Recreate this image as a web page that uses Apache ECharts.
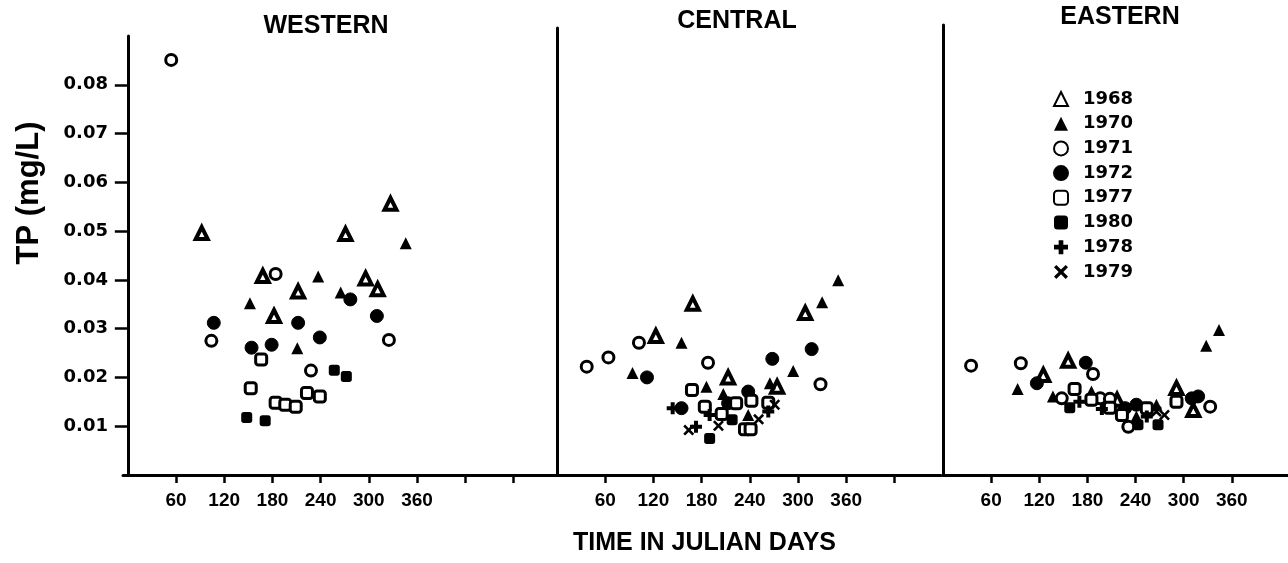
<!DOCTYPE html>
<html>
<head>
<meta charset="utf-8">
<script src="https://cdn.jsdelivr.net/npm/echarts@6/dist/echarts.min.js"></script>
<style>
  html, body { margin: 0; padding: 0; background: #fff; }
  #chart { width: 1288px; height: 563px; }
</style>
</head>
<body>
<div id="chart"></div>
<script>
// panels and legend years
const panels = ["WESTERN", "CENTRAL", "EASTERN"];
const years = ["1968", "1970", "1971", "1972", "1977", "1980", "1978", "1979"];
const dayTicks = [60, 120, 180, 240, 300, 360];
const tpTicks = [0.01, 0.02, 0.03, 0.04, 0.05, 0.06, 0.07, 0.08];

// [julian day, TP mg/L]
// western basin
const w1968 = [[92, 0.0496], [327, 0.0556], [271, 0.0494], [168, 0.0408], [296, 0.0403], [311, 0.0381], [212, 0.0376], [182, 0.0326]];
const w1970 = [[346, 0.0475], [237, 0.0407], [265, 0.0374], [152, 0.0352], [211, 0.0260]];
const w1971 = [[54, 0.0851], [184, 0.0412], [104, 0.0275], [325, 0.0277], [228, 0.0214]];
const w1972 = [[277, 0.0360], [107, 0.0312], [212, 0.0312], [310, 0.0326], [154, 0.0261], [179, 0.0267], [239, 0.0282]];
const w1977 = [[166, 0.0237], [153, 0.0178], [223, 0.0168], [239, 0.0161], [184, 0.0148], [196, 0.0144], [209, 0.0140]];
const w1980 = [[257, 0.0215], [272, 0.0202], [148, 0.0118], [171, 0.0111]];
const w1978 = [];
const w1979 = [];

// central basin
const c1968 = [[123, 0.0285], [169, 0.0351], [309, 0.0332], [213, 0.0200], [274, 0.0181]];
const c1970 = [[155, 0.0271], [94, 0.0209], [294, 0.0213], [330, 0.0354], [350, 0.0399], [186, 0.0181], [207, 0.0166], [265, 0.0188], [238, 0.0123]];
const c1971 = [[37, 0.0222], [64, 0.0241], [102, 0.0271], [188, 0.0230], [328, 0.0186]];
const c1972 = [[112, 0.0200], [268, 0.0238], [317, 0.0258], [238, 0.0171], [155, 0.0137], [213, 0.0147]];
const c1977 = [[168, 0.0174], [242, 0.0152], [184, 0.0140], [223, 0.0147], [263, 0.0148], [205, 0.0125], [234, 0.0094], [241, 0.0094]];
const c1980 = [[218, 0.0113], [190, 0.0075]];
const c1978 = [[144, 0.0137], [263, 0.0130], [190, 0.0123], [173, 0.0099]];
const c1979 = [[271, 0.0144], [251, 0.0114], [201, 0.0101], [164, 0.0092]];

// eastern basin
const e1968 = [[156, 0.0234], [125, 0.0205], [217, 0.0154], [291, 0.0178], [312, 0.0133]];
const e1970 = [[93, 0.0176], [137, 0.0161], [185, 0.0171], [241, 0.0120], [266, 0.0144], [328, 0.0265], [344, 0.0297]];
const e1971 = [[35, 0.0224], [97, 0.0229], [187, 0.0207], [148, 0.0157], [196, 0.0157], [208, 0.0156], [231, 0.0099], [333, 0.0140]];
const e1972 = [[117, 0.0188], [178, 0.0230], [227, 0.0137], [241, 0.0144], [310, 0.0157], [318, 0.0161]];
const e1977 = [[164, 0.0176], [185, 0.0154], [208, 0.0138], [223, 0.0123], [254, 0.0137], [291, 0.0150]];
const e1980 = [[158, 0.0138], [243, 0.0103], [268, 0.0103]];
const e1978 = [[170, 0.0150], [198, 0.0135], [254, 0.0120]];
const e1979 = [[276, 0.0123], [266, 0.0130]];

const panelData = [
  [w1968, w1970, w1971, w1972, w1977, w1980, w1978, w1979],
  [c1968, c1970, c1971, c1972, c1977, c1980, c1978, c1979],
  [e1968, e1970, e1971, e1972, e1977, e1980, e1978, e1979]
];

const PLUS = "path://M4,0H8V4H12V8H8V12H4V8H0V4H4Z";
const CROSS = "path://M2,0L6,4L10,0L12,2L8,6L12,10L10,12L6,8L2,12L0,10L4,6L0,2Z";

// marker look for each year
const markers = {
  "1968": { symbol: "triangle", size: 12, itemStyle: { color: "#fff", borderColor: "#000", borderWidth: 4 } },
  "1970": { symbol: "triangle", size: 12, itemStyle: { color: "#000" } },
  "1971": { symbol: "circle", size: 11, itemStyle: { color: "#fff", borderColor: "#000", borderWidth: 3 } },
  "1972": { symbol: "circle", size: 13, itemStyle: { color: "#000", borderColor: "#000", borderWidth: 1 } },
  "1977": { symbol: "roundRect", size: 11, itemStyle: { color: "#fff", borderColor: "#000", borderWidth: 3 } },
  "1980": { symbol: "roundRect", size: 11, itemStyle: { color: "#000" } },
  "1978": { symbol: PLUS, size: 12, itemStyle: { color: "#000" } },
  "1979": { symbol: CROSS, size: 11, itemStyle: { color: "#000" } }
};

const FONT = "Liberation Sans";
const axisLine = { show: true, lineStyle: { color: "#000", width: 3 } };

// grids in pixels, ~0.803 px per day and ~4878 px per mg/L
const grids = [
  { left: 123, top: 36, width: 433, height: 439 },
  { left: 557, top: 28, width: 384, height: 447 },
  { left: 943, top: 25, width: 345, height: 450 }
];
const xRanges = [[-6, 533], [0, 478], [0, 430]];
const yMax = [0.09, 0.0916, 0.0922];
const xTickSets = [
  [60, 120, 180, 240, 300, 360, 420, 480],
  [60, 120, 180, 240, 300, 360, 420],
  [60, 120, 180, 240, 300, 360]
];

const xAxes = grids.map((g, i) => ({
  type: "value",
  gridIndex: i,
  min: xRanges[i][0],
  max: xRanges[i][1],
  axisLine: axisLine,
  splitLine: { show: false },
  axisTick: { show: true, length: 8, lineStyle: { color: "#000", width: 2.5 }, customValues: xTickSets[i] },
  axisLabel: {
    customValues: dayTicks,
    margin: 16,
    color: "#000",
    fontFamily: FONT,
    fontWeight: "bold",
    fontSize: 19
  }
}));

const yAxes = grids.map((g, i) => ({
  type: "value",
  gridIndex: i,
  min: 0,
  max: yMax[i],
  axisLine: axisLine,
  splitLine: { show: false },
  axisTick: i === 0
    ? { show: true, length: 13, lineStyle: { color: "#000", width: 2.5 }, customValues: tpTicks }
    : { show: false },
  axisLabel: i === 0
    ? {
        customValues: tpTicks,
        margin: 15,
        color: "#000",
        fontFamily: "DejaVu Sans",
        fontWeight: "bold",
        fontSize: 18,
        formatter: v => v.toFixed(2)
      }
    : { show: false }
}));

const series = [];
panelData.forEach((sets, p) => {
  sets.forEach((data, k) => {
    const yr = years[k];
    const m = markers[yr];
    series.push({
      name: yr,
      type: "scatter",
      xAxisIndex: p,
      yAxisIndex: p,
      data: data,
      symbol: m.symbol,
      symbolSize: m.size,
      itemStyle: Object.assign({ opacity: 1 }, m.itemStyle),
      emphasis: { disabled: true }
    });
  });
});

const chart = echarts.init(document.getElementById("chart"));
chart.setOption({
  animation: false,
  backgroundColor: "#fff",
  title: [
    { text: panels[0], left: 326, top: 14, textAlign: "center" },
    { text: panels[1], left: 737, top: 9, textAlign: "center" },
    { text: panels[2], left: 1120, top: 5, textAlign: "center" },
    { text: "TIME IN JULIAN DAYS", left: 573, top: 531 }
  ].map(t => Object.assign(t, {
    padding: 0,
    textStyle: { color: "#000", fontFamily: FONT, fontWeight: "bold", fontSize: 25 }
  })),
  legend: {
    data: years,
    orient: "vertical",
    left: 1053,
    top: 90,
    padding: 0,
    itemWidth: 14,
    itemHeight: 14,
    itemGap: 6.7,
    selectedMode: false,
    textStyle: { color: "#000", fontFamily: "DejaVu Sans", fontWeight: "bold", fontSize: 18, padding: [0, 0, 0, 10] }
  },
  graphic: [{
    type: "text",
    x: 29,
    y: 193,
    rotation: Math.PI / 2,
    style: {
      text: "TP (mg/L)",
      fill: "#000",
      font: "bold 31px 'Liberation Sans'",
      align: "center",
      verticalAlign: "middle"
    }
  }],
  grid: grids,
  xAxis: xAxes,
  yAxis: yAxes,
  series: series
});
</script>
</body>
</html>
